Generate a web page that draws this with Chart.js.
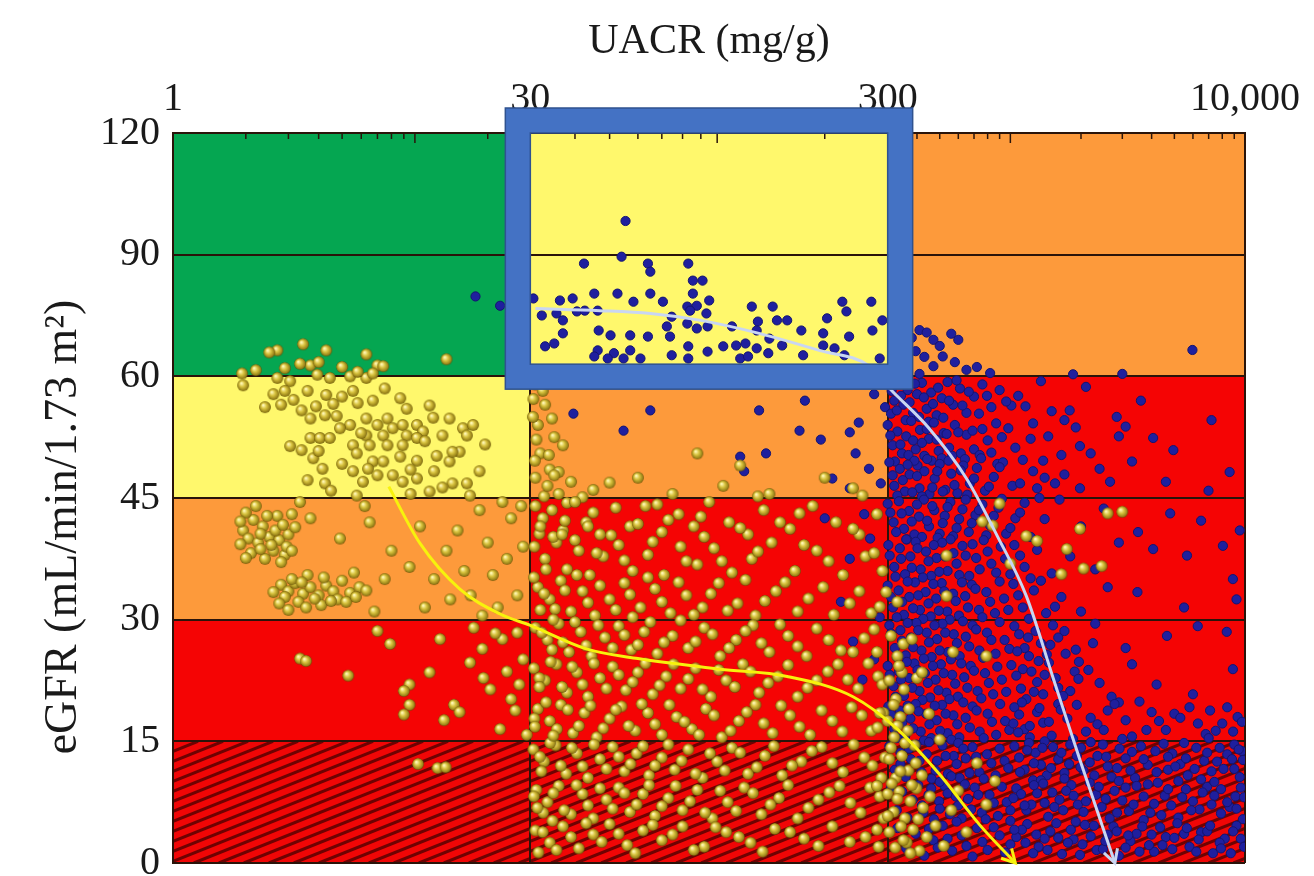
<!DOCTYPE html>
<html>
<head>
  <title>UACR vs eGFR</title>
  <script src="https://cdn.jsdelivr.net/npm/chart.js"></script>
  <style>
    body { margin: 0; background: #fff; }
    #wrap { width: 1314px; height: 876px; }
  </style>
</head>
<body>
<div id="wrap"><canvas id="chart"></canvas></div>
<script>
// axis breakpoints: every interval between two ticks gets the same width
const uacrTicks = [1, 30, 300, 10000];
const uacrTickLabels = ['1', '30', '300', '10,000'];
const egfrTicks = [0, 15, 30, 45, 60, 90, 120];

// risk zones, rows from eGFR 0-15 upwards, columns per UACR interval
const zoneGrid = [
  ['hatch', 'hatch', 'hatch'],
  ['red', 'red', 'red'],
  ['orange', 'red', 'red'],
  ['yellow', 'orange', 'red'],
  ['green', 'yellow', 'orange'],
  ['green', 'yellow', 'orange']
];
const zoneFill = { green: '#05a651', yellow: '#fff86c', orange: '#fd9a3b', red: '#f50404', hatch: '#f00606' };

// highlighted window (UACR, eGFR)
const boxUacr = [30, 300];
const boxEgfr = [63, 120];

// patients, [UACR mg/g, eGFR]
const goldSeries = [
  // A1, eGFR >= 60
  [1.93,60.7],[1.95,58.9],[2.7,66.4],[3.45,67.9],[4.3,66.4],[6.3,65.4],[13.5,64.2],[2.9,62],[3.7,62.7],[3.95,60.4],
  [7,62.7],[7.4,62.5],[2.7,59.8],[3.05,59.4],[4.45,59.8],[5.4,60],[6.3,59.8],[6.7,60.7],[2.5,65.9],[3.35,63.1],
  [2.2,61.5],[5.0,62.3],[4.0,63.5],[5.8,61.1],
  // A1, eGFR 45-60
  [2.9,58.2],[3.6,58.2],[4.3,57.7],[5.55,58.2],[6.7,57],[7.5,58.5],[8.7,57.3],[9.25,56],[11.5,56.4],[3.4,55.8],
  [3.7,54.8],[4.25,55.2],[4.75,55.1],[5.4,54],[6.3,54.8],[7,54],[7.7,54.8],[8.1,53.6],[8.9,54],[10.2,54],
  [10.8,53.2],[13.9,54.8],[15.8,53.6],[17.4,54],[3.7,52.4],[4.05,52.4],[4.45,52.4],[6.3,52.7],[7.4,52.7],[9.25,52.7],
  [10.2,52.4],[13,52.7],[16.4,52.7],[3.05,51.4],[3.4,50.9],[5.55,51.5],[6.5,51.5],[7.7,51.5],[8.9,51.5],[12.3,50.2],
  [13.9,49.5],[15.3,50.7],[3.8,49.9],[4.15,48.6],[5.75,50.5],[6.7,49.5],[7.4,49.5],[8.7,50.1],[10.2,49.6],[14.3,50.7],
  [3.6,47.2],[4.25,46.8],[5.55,48.3],[6.1,47],[7,47.8],[8.1,47.8],[8.9,47],[10.2,47.4],[14.3,46.8],[16.4,46.8],
  [11.5,45.8],[5.75,45.3],[16.9,45.3],
  [2.8,56.5],[3.15,57.1],[3.9,56.3],[4.6,56.6],[5.0,57.5],[5.8,56.7],[6.0,53],[4.9,53.6],[4.0,50.8],[5,49.2],
  [6.4,48.6],[9.6,48.5],[11,52],[12,48.3],[11.9,54.9],[19.5,51.6],[18.5,48.3],[13,46.3],[4.5,45.9],[9.6,45.5],
  [2.6,57.8],[2.4,56.2],
  // A1, eGFR 30-45
  [1.95,41],[2.05,40],[2.15,42.3],[2.25,39.5],[2.35,41.5],[2.5,40.2],[2.6,38.5],[2.75,39.8],[2.9,38],[2.1,38.2],
  [2.4,37.5],[2.7,42.8],[3.0,40.5],[1.9,39.3],[2.8,34.3],[3.0,33.5],[3.2,34.5],[3.45,33.2],[3.7,34],[4.0,33],
  [4.3,34.2],[4.6,33.5],[5.0,34.8],[5.4,33.3],[5.9,34],[3.3,32.2],[4.1,31.8],[4.8,32.5],[2.9,32.8],[3.6,35.5],
  [5.6,35.8],[3.35,44.5],[3.1,43],[3.7,42.5],[4.9,40],[6.2,44],[6.5,42],[8,38.5],[9.5,36.5],[10.5,41.5],
  [12,35],[13.5,38.5],[15,41],[16,36],[17,33],[18.5,43.5],[20,39.5],[21,35.5],[22,31.5],[24,37.5],
  [25,42.5],[26.5,33],[27.5,44],[7.5,35],[11,31.5],[14,32.5],[6.8,31],[19,30.5],[23,44.5],[28,39],
  [2.0,43.2],[2.2,44],[2.3,40.6],[2.45,42.8],[2.55,39.2],[2.65,41],[2.85,41.7],[2.95,39],[3.1,38.5],[1.9,42.1],
  [2.0,37.6],[2.3,38.7],[2.8,37.1],[3.2,41.4],[2.6,33.4],[2.75,32],[3.1,35],[3.4,34.6],[3.85,32.6],[4.2,35.2],
  [4.5,32.3],[5.2,32.2],[5.7,32.8],[6.3,33.6],[3.0,31.2],[3.55,31.5],
  // A1, eGFR 0-30
  [3.35,25.2],[3.55,24.9],[5.3,23.1],[9.5,22],[9,21.2],[9.5,19.5],[9,18.3],[14.5,19.5],[15.3,18.6],[16.9,24.7],
  [19,26.4],[20.5,21.4],[23,27.6],[24,23.6],[25,20.2],[26.5,28.4],[28,25.1],[7,28.6],[7.9,27],[12.7,27.6],
  [11.5,23.5],[17.5,29],[10.3,12.2],[12.4,11.7],[13.4,11.8],
  [19.2,22.8],[21.5,28.3],[27,22],[13.2,17.6],[22.5,16.5],[26,18.8],[29,15.8],
  // A2
  [31,59],[33,56.5],[31.5,54],[35,52.5],[32,50.5],[37,51.5],[34,48.5],[116,49],[88,50.5],[30.6,57.2],
  [30.5,55],[32.5,58.2],[34.5,54.8],[31.2,52.2],[33.8,50.3],[36,48.2],[30.9,49.6],[32.8,45.2],[38,44.4],
  [31,47.5],[33.5,46.5],[36,45.5],[39,47],[45,46],[60,47.5],[75,45.5],[104,46.5],[140,45.5],[200,47.5],[255,45.3],
  [35,47.8],[42,45.1],[50,46.9],[68,44.2],[90,42.7],[130,45.2],[170,43.1],[240,46.2],[31.8,40.6],[45,43.2],
  [31,44],[32.5,42.5],[34.5,43.5],[37,41],[40,44.5],[43,42],[47,40.5],[52,43.8],[57,41.5],[63,44],
  [70,40.8],[78,43],[86,41.5],[95,44.5],[108,42],[122,40.5],[135,43.5],[160,41.2],[185,44],[215,42],[250,40.5],[280,43],
  [30.8,39],[33,37.5],[35.5,39.5],[38,36.2],[41,38.5],[44,35.5],[48,37.8],[53,39.2],[58,36],[64,38],
  [71,35.5],[79,39],[88,36.8],[98,38.8],[110,35.8],[125,37.5],[142,39.5],[165,36],[190,38.5],[225,35.5],[260,37.8],[290,36],
  [32,41.5],[34.8,40.2],[37.5,42.2],[40,39.8],[43.5,41.5],[46,38.2],[50.5,40.4],[55,37.3],[60,41.8],[66,39.6],
  [73,42.3],[82,37.2],[92,40.2],[103,37.2],[116,41.3],[130,38.4],[150,42],[175,39.2],[205,37.2],[240,41.2],[275,38.2],
  [31.5,34],[34,32.5],[36.5,34.8],[39,31],[42,33.5],[45.5,30.5],[50,32.5],[55,34.5],[61,31.5],[67,33.8],
  [74,30.8],[82,33],[91,31.5],[101,34.5],[114,32],[128,30.5],[146,33.5],[168,31],[198,34],[235,32],[270,30.8],[58,30.3],
  [30.7,35.2],[32.8,33.2],[35.2,31.3],[37.5,33.6],[40.5,35.5],[43.5,32.1],[47,34.2],[52,31.2],[57,33.1],[64,35.2],
  [70,32.2],[78,34.6],[86,30.6],[96,33.2],[107,31.1],[120,34.9],[136,32.3],[155,34.6],[180,32.6],[212,30.6],[250,33.5],[285,31.6],
  [31,29],[33.5,27.5],[36,29.5],[38.5,26],[41.5,28.5],[44.5,25.5],[48.5,27.8],[53,29.2],[57.5,26.3],[62.5,28.5],
  [68,25.8],[75,28],[83,26.5],[92,29],[102,25.5],[113,27.5],[126,29.3],[140,26],[158,28],[178,25.5],[205,27.5],[240,26],[275,28.8],
  [32.3,28.4],[34.8,30],[37,27.2],[40,29.7],[43,26.8],[46.5,29.3],[51,26.5],[55,28.1],[60,26.9],[65,29.7],
  [71,27.2],[79,29.9],[87,27.3],[97,28.2],[108,26.5],[120,28.6],[133,27.1],[150,29.4],[168,26.7],[190,28.9],[222,26.2],[258,27.7],
  [30.7,24],[33,22.5],[35.5,24.5],[38,21],[40.5,23.5],[43.5,20.5],[47,22.8],[51,24.2],[55.5,21.3],[60,23.5],
  [66,20.8],[72,23],[79,21.5],[87,24],[96,20.5],[106,22.5],[118,24.5],[131,21],[148,23],[168,20.5],[190,22.5],[218,24.5],[248,21.5],[282,23],
  [31.8,22.8],[34.2,24.8],[36.8,21.7],[39.3,24.2],[42,22],[45.2,24.6],[49,21.5],[53,23.2],[58,22.3],[63,24.6],
  [69,21.9],[75.5,24.5],[83,22.7],[91,21.4],[101,23.8],[112,21.7],[124,23.6],[139,22.2],[158,24.4],[179,21.6],[204,23.6],[232,22.6],[265,24.6],
  [31.5,19],[34,17.5],[36.5,19.5],[39.5,16],[42.5,18.5],[46,15.5],[50,17.8],[54,19.3],[59,16.3],[64,18.5],
  [70,15.8],[77,18],[85,16.5],[93,19],[103,15.5],[115,17.5],[128,19.5],[143,16],[160,18.2],[182,15.8],[210,17.5],[238,19.2],[270,16.3],[292,18.5],
  [30.8,17.8],[33.2,19.8],[35.6,16.5],[38.2,18.9],[41,16.9],[44.2,19.4],[48,16.6],[52,18.9],[56.5,16.9],[61.5,19.6],
  [67,17.1],[73.5,19.5],[81,17.4],[89,15.8],[98,18.2],[109,16.3],[121,18.6],[135,17.2],[151,19.4],[170,16.8],[196,18.8],[224,16.2],[254,18.2],[281,16.7],
  [30.6,14],[32.8,12.5],[35.3,14.5],[37.8,11],[40.5,13.5],[43.5,10.5],[47,12.8],[51,14.3],[55,11.3],[59.5,13.5],
  [64.5,10.8],[70,13],[76,11.5],[83,14],[91,10.5],[100,12.5],[110,14.2],[122,11],[136,13.2],[152,10.8],[172,12.5],[196,14.3],[225,11.2],[258,13],[288,10.5],
  [31.9,13.1],[34.1,14.8],[36.5,12],[39.2,14.2],[42,11.9],[45.2,14.6],[49,11.6],[53,13.1],[57.2,12.2],[62,14.4],
  [67,12],[73,14.6],[79.5,12.6],[87,11],[95.5,13.5],[105,11.4],[116,13.6],[129,11.8],[144,14.4],[162,12],[184,13.8],[210,12.3],[241,14.6],[272,12],
  [31.2,9],[33.5,7.5],[36,9.5],[39,6],[42,8.5],[45,5.5],[49,7.8],[53,9.3],[57,6.3],[62,8.5],
  [67,5.8],[73,8],[80,6.5],[88,9],[97,5.5],[107,7.5],[119,9.3],[133,6],[149,8],[168,5.5],[192,7.8],[220,9.5],[252,6.2],[285,8.2],
  [30.7,8.2],[32.6,6.2],[34.8,8.6],[37.3,6.5],[40.4,9.6],[43.5,7.1],[47,9.2],[51,6.7],[55,8.6],[59.5,7.2],
  [64.5,9.6],[70,7],[76.5,9.5],[84,7.6],[92.5,6.2],[102,8.9],[113,6.4],[126,8.6],[141,7.2],[158,9.6],[180,6.8],[206,8.7],[236,7.4],[268,9.3],
  [31,4],[34,2.5],[37,4.5],[41,1.8],[45,3.5],[50,4.8],[56,2.2],[62,4],[70,2.8],[80,4.5],
  [92,2],[106,3.8],[124,2.5],[145,4.2],[175,3],[210,4.5],[260,3.2],
  [32.5,3.8],[35.5,1.6],[39,3.2],[43,4.9],[47.5,2.6],[53,3.6],[59,1.2],[66,4.7],[75,3.5],[86,1.6],
  [99,4.4],[115,3.2],[134,1.4],[160,3.8],[192,2.1],[235,2.6],[280,4.1],[31.6,1.3],
  [32,31.2],[34.5,26.3],[31.8,21.7],[34.8,15.7],[32.2,11.3],[34.6,5.2],[36.8,40.5],[33.2,36.2],[30.9,16.8],[31.4,6.8],
  [280,26],[290,22],[285,18.5],[295,13],[280,9.5],[292,5.5],[283,2],
  // A3
  [310,28],[330,25.5],[350,27],[305,22.5],[325,20.2],[345,23.5],[370,19],[300,17.5],[320,15.5],[340,18],
  [365,16.3],[390,14.5],[305,12.8],[325,10.5],[345,13.2],[368,11.4],[395,12.3],[420,10.8],[300,8.5],[318,6.3],
  [336,8.8],[355,5.5],[375,7.6],[398,9.2],[425,6.8],[455,8.2],[305,3.8],[323,1.9],[342,4.5],[362,2.5],
  [385,4.1],[410,1.5],[440,3.2],[480,4.6],[520,2.1],[560,6.5],[600,8.9],[650,3.8],[720,12.3],[790,7.2],
  [860,10.1],[400,22.8],[450,18.4],[500,15.2],[330,32.2],[900,44.3],[840,41.6],[760,42.1],[1170,40.3],[1300,39.7],
  [1740,38.7],[1980,41.2],[2600,43.1],[3000,43.3],[1650,35.6],[2050,36.3],[2450,36.6],[297,33.4],[535,32.9],[535,37.9],
  [1000,36.9],[380,27.6],[570,26],[790,25.5],[335,24.3],[420,23.5],
  [310,14.2],[330,16.9],[356,14.8],[312,9.8],[340,11.3],[380,9.6],[300,5.8],[330,7.9],[350,2.8],[375,1.2],
  [405,5.4],[318,19.5],[352,21.4]
];

const navySeries = [
  // A1 / A2 upper rows
  [17.8,79.7],[22.5,77.4],
  [42.4,87.8],[54,89.5],[64,87.8],[65,85.8],[83,87.8],[85.5,83.6],[91,83.6],[45.3,80.4],[52.6,80.4],[65,80.4],
  [85.5,80.4],[36.3,78.7],[39.4,79.2],[58.3,78.4],[70.5,78.4],[82.5,77.2],[87.7,77.4],[95,78.7],[125,77.2],[143,77.2],
  [224,78.4],[270,78.4],[230,76],[30.6,79.2],[32.3,75],[35.5,75.5],[37,73.8],[40.5,76],[42.6,76.2],[46.3,76.2],
  [74.6,74.7],[84,76.2],[93.3,75.5],[130,73.5],[147,73.8],[157,73.8],[203,74.3],[290,73.8],[37,70.6],[46.6,71.3],
  [50.3,70.1],[57.1,70.1],[64,69.8],[72.3,72.3],[82.5,73],[87.7,71.8],[94,72.3],[110,72.3],[129,71.3],[140,69.3],
  [172,71.3],[198,70.6],[234,69.8],[272,71.3],[33,67.4],[35,68.1],[46.3,66.4],[51.4,65.7],[57.1,66.4],[73.8,69.8],
  [83,67.4],[94,66.1],[104,67.4],[113,67.6],[120,68.1],[129,66.9],[139,65.7],[152,67.6],[174,65.2],[198,67.6],
  [213,66.9],[227,65.2],[285,64.4],[45.3,64.9],[49.4,64.4],[54.7,64.4],[61,64.4],[74.6,65.2],[83,64.4],[116,64.4],
  [122,64.9],[55.4,98.3],
  // A2 below 60
  [39.6,55.4],[54.7,53.3],[65,55.8],[102,59.5],[131,55.8],[137,50.5],[170,53.3],[176,57],[195,52.2],[235,53.1],
  [244,50.5],[249,54.3],[275,57.8],[295,56.2],[266,48.6],[235,46.2],[210,47.4],[287,46.8],[119,48.3],[116,50.1],
  [240,27.3],[222,32.2],[235,37.5],[268,40],[285,30.3],[255,22.6],[275,25.1],[258,43],[200,42.5],
  // A3, eGFR >= 45
  [320,70.3],[345,68],[380,69.5],[410,71.4],[440,70.8],[470,69],[500,67.5],[560,70.5],[600,69],[330,65.4],
  [365,63.8],[395,66.2],[430,64.8],[470,62.5],[515,64.9],[580,63.5],[650,61.6],[720,62.3],[820,60.8],[5970,66.5],
  [3000,60.6],[1850,60.5],[340,61.2],[410,60.6],
  [305,59],[320,57],[335,59.5],[350,56.5],[365,58.3],[385,55.5],[400,57.8],[420,59.2],[440,56],[460,58],
  [485,55.2],[510,57.3],[540,59.3],[570,56.5],[610,58.5],[650,55.5],[700,57.5],[760,59],[830,56.2],[900,58.3],
  [1010,56.4],[1160,56.3],[1790,55.8],[1700,54.6],[2840,55],[1250,54.2],[1350,59.4],[2100,58.7],[3600,57],[310,55.4],
  [312,58.2],[328,55.8],[342,57.6],[358,54.6],[372,56.8],[392,59.1],[408,55],[428,57.4],[448,54.4],[468,56.6],
  [492,58.6],[518,54.9],[548,57],[590,59.5],[625,56.4],[665,58.1],[735,55.4],[795,57.6],[870,54.2],[960,56.9],
  [300,54],[315,51.5],[330,53.2],[345,50.5],[360,52.6],[378,54.5],[395,51],[412,53.4],[430,50.2],[450,52.3],
  [472,54.3],[495,50.8],[520,53],[548,51.2],[580,54],[615,50.5],[650,52.8],[700,51],[760,53.5],[830,50.6],
  [920,52.5],[1050,51.2],[1450,52.6],[1980,51.4],[2200,50.5],[4060,52.4],[4950,50.9],[3100,53.8],[7200,54.6],
  [308,52.7],[322,49.5],[340,51.6],[368,50.3],[385,52.1],[402,49],[420,51.8],[440,53.5],[462,49.6],[485,52.2],
  [510,49.9],[535,52.9],[565,50.2],[600,53.1],[640,49.8],[690,53.3],[740,50.3],[800,52.1],[880,49.2],[980,53.6],
  [305,49.4],[320,46.5],[338,48.6],[355,45.8],[372,47.9],[390,49.6],[410,46.2],[430,48.3],[452,45.5],[476,47.4],
  [500,49.2],[528,46],[560,48],[595,45.6],[630,49],[672,46.8],[720,48.7],[780,45.9],[850,47.6],[930,49.4],
  [1020,46.5],[1250,48.3],[1400,47.5],[1550,46.8],[1700,47.9],[1980,46.2],[2660,47],[4600,47],[6990,45.9],[3300,49.5],[8600,48.2],
  [315,47.8],[330,45.3],[348,47.2],[365,49.1],[382,45.7],[400,47.7],[420,45.2],[442,49.8],[465,46.3],[488,48.3],
  [515,45.8],[545,49.6],[578,46.6],[615,48.4],[655,45.4],[700,47.4],[750,49.9],[810,46.4],[900,48.8],[1100,46.8],
  [1080,57.6],[1220,52.3],[1380,49.6],[1500,55.7],[1650,50.3],[1900,53.7],[2400,48.6],[2900,52.6],[1130,49.7],[1300,46.2],
  // A3, eGFR 30-45
  [300,44.3],[318,42],[335,44.6],[352,41.2],[370,43.4],[390,40.5],[408,42.7],[428,44.8],[450,41.5],[474,43.5],
  [500,40.6],[525,42.8],[555,44.5],[590,41.3],[625,43.6],[665,40.8],[710,42.9],[760,44.2],[820,41.6],[890,43.8],
  [960,40.6],[1050,42.5],[1150,44.4],[1330,45],[1620,44.8],[2000,41.5],[2500,43.7],[4800,43.1],[3500,40.8],[6500,42.2],[9500,41],
  [308,43.2],[326,40.8],[344,43.1],[362,39.9],[380,42.1],[400,44.2],[420,40.2],[442,42.2],[465,44],[490,40.1],
  [515,41.9],[540,43.9],[570,40.3],[605,42.4],[645,44.8],[685,41.9],[735,43.5],[790,40.4],[850,42.8],[920,44.9],
  [1000,41.3],[1100,43.2],[1220,40.2],[1400,42.4],
  [302,39.2],[320,36.5],[338,38.8],[356,35.6],[375,37.8],[395,39.6],[415,36.2],[437,38.4],[460,35.4],[485,37.6],
  [512,39.5],[540,36],[572,38.2],[606,35.5],[645,37.9],[690,39.3],[740,36.2],[800,38.4],[870,35.8],[950,37.5],
  [1040,39.2],[1150,36.5],[1300,38.6],[1500,35.7],[1800,37.8],[2300,36.2],[8050,39.1],[8880,35],[5660,37.9],[4060,38.7],[2900,39.5],
  [306,37.9],[324,35.3],[342,37.5],[360,39.9],[380,36.4],[402,38.8],[424,35.2],[448,37.2],[472,39.2],[498,35.9],
  [526,37.8],[556,39.9],[590,36.9],[625,39.1],[668,35.4],[715,37.6],[770,39.8],[830,36.9],[910,39],[1000,35.6],
  [1100,37.9],[1220,35.1],
  [300,34.2],[316,31.5],[334,33.6],[352,30.6],[371,32.8],[392,34.6],[412,31.2],[435,33.4],[458,30.4],[483,32.6],
  [510,34.5],[538,31],[570,33.2],[604,30.5],[642,32.9],[685,34.3],[735,31.2],[790,33.4],[860,30.8],[940,32.6],
  [1030,34.4],[1130,31.5],[1260,33.6],[1420,30.8],[1650,32.8],[3480,33.4],[2000,31],[2600,34],[5500,31.5],[9200,32.5],
  [310,32.8],[328,30.3],[346,32.2],[365,34.7],[385,31.4],[405,33],[425,30.1],[448,32],[470,34.4],[496,31.1],
  [523,33.5],[552,30],[585,32.3],[622,34.6],[660,31.5],[710,33.8],[760,30.3],[820,32.2],[900,34.7],[980,31.2],
  [1080,33],[1200,30.1],[1350,34.8],[1550,31.6],
  // A3, eGFR 15-30
  [305,29.3],[322,26.5],[340,28.7],[358,25.6],[377,27.8],[398,29.6],[418,26.2],[440,28.4],[462,25.4],[487,27.6],
  [514,29.5],[542,26],[574,28.2],[608,25.5],[646,27.9],[690,29.3],[738,26.2],[795,28.4],[865,25.8],[945,27.5],
  [1040,29.2],[1150,26.5],[1280,28.6],[1430,25.7],[1600,27.8],[1900,26.3],[6290,29.2],[8360,28.5],[4650,28],[3100,26.5],[2300,29.5],
  [310,28.3],[328,25.4],[345,27.4],[365,29.6],[385,26.6],[405,28.7],[428,25.2],[450,27.2],[475,29.3],[500,26.2],
  [528,28.4],[558,25.1],[592,27.1],[628,29.8],[668,26.7],[715,28.8],[765,25.3],[830,27.5],[900,29.7],[990,26.4],
  [1090,28.2],[1200,25.5],[1350,27.1],[1520,29.3],[1720,25.8],
  [1070,26.1],[1190,27.8],[1320,24.9],[1480,26.9],[1700,28.6],[1960,24.8],[2250,27.1],[1130,23.9],[1260,21.1],[1400,23.2],
  [1600,21.6],[1880,23.6],[2400,22.2],
  [300,24.3],[318,21.8],[335,23.6],[352,20.6],[370,22.8],[390,24.6],[410,21.2],[432,23.4],[455,20.4],[480,22.6],
  [506,24.5],[534,21],[565,23.2],[598,20.5],[636,22.9],[678,24.3],[725,21.2],[780,23.4],[845,20.8],[920,22.6],
  [1010,24.4],[1110,21.5],[1230,23.6],[1380,20.8],[1560,22.8],[1800,21.2],[2150,23.8],[2700,20.5],[8880,23.9],[4200,22],[6000,20.8],[3300,24.5],
  [306,23.2],[324,20.5],[342,22.6],[362,24.8],[382,21.6],[402,23.8],[422,20.1],[445,22.2],[468,24.3],[494,21.3],
  [520,23.4],[550,20.2],[582,22.1],[618,24.6],[656,21.6],[700,23.7],[752,20.3],[810,22.2],[880,24.2],[960,21.1],
  [1060,23.1],[1170,20.2],[1300,22.3],[1460,24.7],[1680,20.6],[1950,22.7],
  [302,19.3],[320,16.5],[338,18.8],[356,15.6],[375,17.8],[395,19.6],[415,16.2],[437,18.4],[460,15.4],[485,17.6],
  [512,19.5],[540,16],[572,18.2],[606,15.5],[645,17.9],[690,19.3],[740,16.2],[800,18.4],[870,15.8],[950,17.5],
  [1040,19.2],[1150,16.5],[1300,18.6],[1500,15.7],[1750,17.8],[2100,16.2],[2600,18.8],[3300,15.6],[4300,17.5],[5800,19.2],[7500,16.3],[9300,18],
  [310,18.3],[328,15.4],[346,17.3],[365,19.4],[385,16.6],[406,18.7],[428,15.1],[452,17.1],[476,19.4],[502,16.3],
  [530,18.4],[560,15.2],[594,17.1],[630,19.8],[672,16.7],[718,18.8],[770,15.4],[835,17.4],[905,19.6],[990,16.4],
  [1090,18.3],[1210,15.5],[1380,17.3],[1600,19.6],[1850,15.3],[2350,17.1],[2900,19.8],[3800,16.4],[5000,18.4],[6800,15.9],[8400,19.2],
  [1030,17.2],[1120,19.8],[1210,16.9],[1330,19.1],[1460,17.4],[1640,18.9],[1920,19.5],[2200,17.9],[2500,16.4],[2780,19.6],
  [3100,17.6],[3550,19.9],[4000,18.6],[4600,16.4],[5300,17.9],[6300,17.2],[7100,18.8],[8000,17.2],[8900,16.2],[9700,17.4],
  // A3, eGFR 0-15
  [305,14.4],[322,11.5],[340,13.6],[358,10.6],[377,12.8],[398,14.6],[418,11.2],[440,13.4],[462,10.4],[487,12.6],
  [514,14.5],[542,11],[574,13.2],[608,10.5],[646,12.9],[690,14.3],[738,11.2],[795,13.4],[865,10.8],[945,12.6],
  [1040,14.4],[1150,11.5],[1280,13.6],[1430,10.8],[1600,12.8],[1800,14.6],[2050,11.4],[2350,13.2],[2700,10.6],[3100,12.9],
  [3600,14.4],[4200,11.2],[4900,13.5],[5700,10.8],[6700,12.6],[7800,14.2],[9000,11.6],[9700,13.8],[600,14.8],[1250,10.2],[2200,14.9],[5200,10.1],
  [340,12.2],[370,14.1],[410,12.6],[450,14.9],[480,11.4],[530,13.2],[560,10.7],[590,12.2],[630,14.1],[670,11.1],
  [715,13.1],[770,10.4],[830,12.3],[900,14.1],[980,11.7],[1090,13],[1200,14.8],[1350,12.1],[1520,14.3],[1700,11.1],
  [1920,13.2],[2180,12.4],[2480,14.6],[2850,11.7],[3300,13.7],[3850,12.1],[4500,14.7],[5300,12.2],[6200,14.2],[7200,11.3],[8400,13.4],[9500,10.6],
  [1100,11.2],[1700,10.4],[2600,11.9],[3400,10.5],[4700,11.5],[6500,10.3],[8100,11.6],[9800,12.7],[1400,15],[2000,14.2],
  [3000,15.3],[5500,14.8],[7000,15.4],[9000,14.6],
  [1080,16.1],[1180,13.9],[1260,12.3],[1370,14.2],[1490,11.7],[1650,13.6],[1780,12.2],[1990,11.8],[2280,10.8],[2560,13.1],
  [2920,14.1],[3250,11.4],[3700,12.8],[4150,13.8],[4700,13.1],[5050,11.9],[5600,12.9],[6100,11.6],[6900,13.6],[7600,12.5],[8800,12.8],[9400,14],
  [310,9.3],[328,6.5],[346,8.8],[364,5.6],[384,7.8],[405,9.6],[426,6.2],[448,8.4],[472,5.4],[497,7.6],
  [524,9.5],[553,6],[585,8.2],[620,5.5],[660,7.9],[705,9.3],[755,6.2],[815,8.4],[885,5.8],[965,7.5],
  [1060,9.2],[1170,6.5],[1300,8.6],[1450,5.7],[1620,7.8],[1820,9.6],[2050,6.3],[2320,8.4],[2650,5.5],[3000,7.7],
  [3450,9.5],[3950,6.2],[4550,8.3],[5200,5.6],[6000,7.6],[6900,9.4],[7900,6.1],[9100,8.2],[9800,5.4],
  [1000,5.2],[1900,5.1],[3700,5.3],[7400,10],[2900,10.1],[1350,10.2],[500,10],
  [420,7.1],[460,9.2],[500,6.7],[540,8.6],[600,7.1],[640,9.7],[680,6.6],[730,8.4],[785,5.4],[850,7.4],
  [920,9.4],[1000,6.5],[1110,8.5],[1230,7.2],[1380,9.8],[1540,6.9],[1730,8.9],[1940,7.2],[2180,9.9],[2450,6.9],
  [2780,8.9],[3200,6.4],[3700,8.2],[4250,9.9],[4850,7.1],[5600,9.1],[6400,6.6],[7400,8.3],[8600,6.9],[9600,9.3],
  [1030,8],[1150,7.1],[1260,9.6],[1400,7.4],[1510,8.7],[1680,6.5],[1860,8.3],[2100,7.6],[2380,9.4],[2550,7.9],
  [2850,6.2],[3100,9.3],[3350,7.2],[3850,9.7],[4100,7.3],[4400,5.9],[4700,9.1],[5400,8.1],[5900,6.5],[6600,8.7],
  [7200,7.2],[7900,9.1],[8400,7.5],[9200,6.7],[9900,8.1],
  [330,4.3],[360,1.8],[395,3.6],[430,0.9],[470,2.8],[515,4.6],[565,1.5],[620,3.4],[690,0.8],[760,2.6],
  [850,4.4],[950,1.3],[1060,3.2],[1180,4.8],[1320,2],[1480,3.9],[1660,1.1],[1860,2.9],[2080,4.7],[2330,1.6],
  [2600,3.5],[2900,0.9],[3250,2.7],[3650,4.5],[4100,1.4],[4600,3.2],[5150,4.9],[5800,2],[6500,3.8],[7300,1.2],[8200,3],[9200,4.6],
  [450,4.2],[490,1.9],[540,3],[590,5.1],[650,2.1],[720,4.3],[800,1.6],[900,3.4],[1000,2.3],[1120,4.1],
  [1250,1.2],[1400,3],[1570,4.9],[1760,2.5],[1980,1],[2200,3.3],[2480,1.7],[2750,4.5],[3100,1.9],[3450,3.6],
  [3900,2.2],[4350,4.4],[4900,1.7],[5500,3.6],[6200,1.4],[6900,3.9],[7800,2.5],[8700,1.2],[9600,3],
  [1040,4.1],[1160,2.5],[1290,3.5],[1440,1.6],[1600,3.1],[1810,4.1],[2030,2.3],[2270,4.6],[2540,2.7],[2840,3.9],
  [3180,3.4],[3550,1.4],[4000,3.5],[4450,2.2],[5000,3.1],[5650,4.3],[6350,2.9],[7100,4.6],[7900,1.8],[8900,3.9],[9900,2]
];

// fitted trends
const goldTrend = [[7.8,46.4],[10.5,39.4],[15.3,33.8],[22.5,30.7],[30,29.3],[43,26.4],[60,25.2],[102,23.9],[157,23],[240,20.5],[330,16.5],[500,10.9],[740,4.7],[1050,0]];
const navyTrend = [[31,76.7],[47,76.2],[65,75.5],[90,73.8],[131,70.6],[193,66.4],[267,62.5],[306,58.5],[450,53.6],[650,47.4],[880,40.3],[1170,32.9],[1530,22.6],[1980,12.7],[2790,0]];

const yTitle = 'eGFR (mL/min/1.73 m²)';

// value -> axis position (one unit per tick interval)
function segPos(v, ticks, f) {
  for (let i = 0; i < ticks.length - 1; i++) {
    if (v <= ticks[i + 1] || i === ticks.length - 2) {
      return i + (f(v) - f(ticks[i])) / (f(ticks[i + 1]) - f(ticks[i]));
    }
  }
}
const uacrPos = v => segPos(v, uacrTicks, Math.log10);
const egfrPos = v => segPos(v, egfrTicks, t => t);
const toXY = p => ({ x: uacrPos(p[0]), y: egfrPos(p[1]) });

function ballSprite(r) {
  const c = document.createElement('canvas');
  const s = Math.ceil(r * 2 + 2);
  c.width = c.height = s;
  const g = c.getContext('2d');
  const grad = g.createRadialGradient(s / 2 - r * 0.3, s / 2 - r * 0.35, r * 0.1, s / 2, s / 2, r);
  grad.addColorStop(0, '#fff7b4');
  grad.addColorStop(0.4, '#d9c440');
  grad.addColorStop(0.85, '#978118');
  grad.addColorStop(1, 'rgba(90,70,0,0.7)');
  g.fillStyle = grad;
  g.beginPath();
  g.arc(s / 2, s / 2, r, 0, Math.PI * 2);
  g.fill();
  return c;
}

const serif = '"Liberation Serif", "Times New Roman", serif';
const ink = '#1a1a1a';
const lineDark = '#2a140a';

const zonesPlugin = {
  id: 'zones',
  beforeDraw(chart) {
    const { ctx, scales: { x, y } } = chart;
    ctx.save();
    zoneGrid.forEach((row, r) => {
      row.forEach((kind, c) => {
        const l = x.getPixelForValue(c), rr = x.getPixelForValue(c + 1);
        const t = y.getPixelForValue(r + 1), b = y.getPixelForValue(r);
        ctx.fillStyle = zoneFill[kind];
        ctx.fillRect(l, t, rr - l, b - t);
        if (kind === 'hatch') {
          ctx.save();
          ctx.beginPath();
          ctx.rect(l, t, rr - l, b - t);
          ctx.clip();
          ctx.strokeStyle = '#6e0202';
          ctx.lineWidth = 3;
          const slope = 0.4, h = b - t;
          for (let k = l - h / slope; k < rr; k += 25) {
            ctx.beginPath();
            ctx.moveTo(k, b);
            ctx.lineTo(k + h / slope, t);
            ctx.stroke();
          }
          ctx.restore();
        }
      });
    });
    ctx.restore();
  },
  beforeDatasetsDraw(chart) {
    // minor log ticks along the top edge
    const { ctx, scales: { x }, chartArea } = chart;
    ctx.save();
    ctx.strokeStyle = lineDark;
    ctx.lineWidth = 1.5;
    for (let d = 1; d < 10000; d *= 10) {
      for (let m = 1; m <= 9; m++) {
        const v = m * d;
        if (v <= 1 || v >= 10000 || uacrTicks.includes(v)) continue;
        const px = x.getPixelForValue(uacrPos(v));
        ctx.beginPath();
        ctx.moveTo(px, chartArea.top);
        ctx.lineTo(px, chartArea.top + (m === 1 ? 10 : 6));
        ctx.stroke();
      }
    }
    ctx.restore();
  },
  afterDatasetsDraw(chart) {
    const { ctx, scales: { x, y } } = chart;
    // arrow heads at the end of each trend
    chart.data.datasets.forEach((ds, i) => {
      if (!ds.arrow) return;
      const pts = chart.getDatasetMeta(i).data;
      const a = pts[pts.length - 2], b = pts[pts.length - 1];
      const ang = Math.atan2(b.y - a.y, b.x - a.x);
      ctx.save();
      ctx.strokeStyle = ds.borderColor;
      ctx.lineWidth = 3;
      ctx.beginPath();
      ctx.moveTo(b.x - 15 * Math.cos(ang - 0.5), b.y - 15 * Math.sin(ang - 0.5));
      ctx.lineTo(b.x, b.y);
      ctx.lineTo(b.x - 15 * Math.cos(ang + 0.5), b.y - 15 * Math.sin(ang + 0.5));
      ctx.stroke();
      ctx.restore();
    });
    // highlight frame
    const l = x.getPixelForValue(uacrPos(boxUacr[0])), r = x.getPixelForValue(uacrPos(boxUacr[1]));
    const t = y.getPixelForValue(egfrPos(boxEgfr[1])), b = y.getPixelForValue(egfrPos(boxEgfr[0]));
    const w = 25;
    ctx.save();
    ctx.strokeStyle = '#4472c4';
    ctx.lineWidth = w;
    ctx.strokeRect(l - w / 2, t - w / 2, r - l + w, b - t + w);
    ctx.strokeStyle = '#2f528f';
    ctx.lineWidth = 1.5;
    ctx.strokeRect(l - w, t - w, r - l + 2 * w, b - t + 2 * w);
    ctx.strokeRect(l, t, r - l, b - t);
    ctx.restore();
  },
  afterDraw(chart) {
    // vertical axis title, sits a little below the plot centre
    const { ctx, chartArea } = chart;
    ctx.save();
    ctx.translate(64, (chartArea.top + chartArea.bottom) / 2 + 29);
    ctx.rotate(-Math.PI / 2);
    ctx.font = '46px ' + serif;
    ctx.fillStyle = ink;
    ctx.textAlign = 'center';
    ctx.textBaseline = 'middle';
    ctx.fillText(yTitle, 0, 0);
    ctx.restore();
  }
};

new Chart(document.getElementById('chart'), {
  type: 'scatter',
  data: {
    datasets: [
      {
        type: 'line', data: goldTrend.map(toXY), borderColor: '#f7f20c', borderWidth: 3,
        pointRadius: 0, cubicInterpolationMode: 'monotone', order: 0, arrow: true
      },
      {
        type: 'line', data: navyTrend.map(toXY), borderColor: '#c9d6f2', borderWidth: 3,
        pointRadius: 0, cubicInterpolationMode: 'monotone', order: 0, arrow: true
      },
      { data: goldSeries.map(toXY), pointStyle: ballSprite(6), order: 1 },
      {
        data: navySeries.map(toXY), pointRadius: 4.6, pointStyle: 'circle',
        backgroundColor: '#1f1f9e', borderColor: '#141470', borderWidth: 1, order: 2
      }
    ]
  },
  options: {
    responsive: true,
    maintainAspectRatio: false,
    animation: false,
    events: [],
    layout: { padding: { left: 0, top: 0, right: 69, bottom: 13 } },
    plugins: { legend: { display: false }, tooltip: { enabled: false } },
    scales: {
      x: {
        type: 'linear', position: 'top', min: 0, max: uacrTicks.length - 1,
        afterBuildTicks: s => { s.ticks = uacrTicks.map((_, i) => ({ value: i })); },
        afterFit: s => { s.height = 133; s.paddingLeft = 0; s.paddingRight = 0; },
        ticks: {
          autoSkip: false, maxRotation: 0, padding: 10, color: ink,
          font: { family: serif, size: 40 },
          callback: (v, i) => uacrTickLabels[i]
        },
        grid: { color: lineDark, lineWidth: 2, drawTicks: false },
        border: { color: lineDark, width: 2 },
        title: { display: true, text: 'UACR (mg/g)', color: ink, font: { family: serif, size: 42 }, padding: { top: 17 } }
      },
      y: {
        type: 'linear', min: 0, max: egfrTicks.length - 1,
        afterBuildTicks: s => { s.ticks = egfrTicks.map((_, i) => ({ value: i })); },
        afterFit: s => { s.width = 173; s.paddingTop = 0; s.paddingBottom = 0; },
        ticks: {
          autoSkip: false, padding: 13, color: ink,
          font: { family: serif, size: 40 },
          callback: (v, i) => String(egfrTicks[i])
        },
        grid: { color: lineDark, lineWidth: 2, drawTicks: false },
        border: { color: lineDark, width: 2 }
      }
    }
  },
  plugins: [zonesPlugin]
});
</script>
</body>
</html>
